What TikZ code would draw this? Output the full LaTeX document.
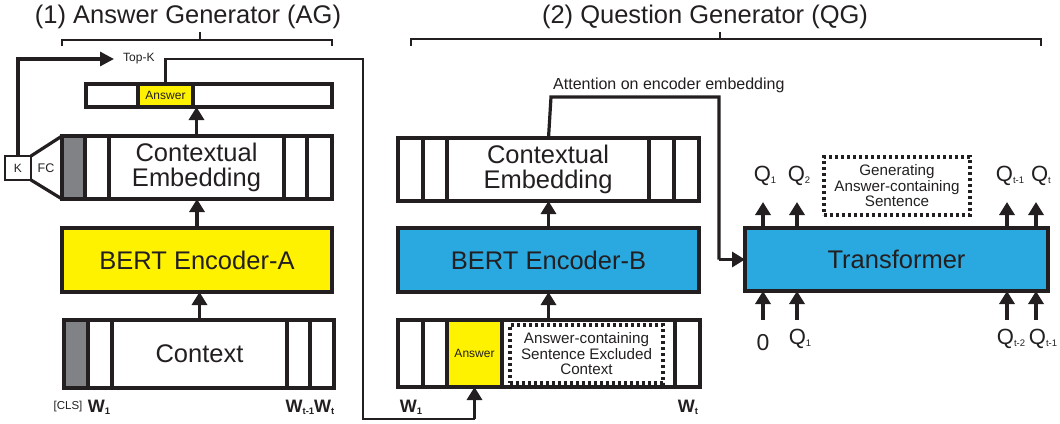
\documentclass[tikz,border=0pt]{standalone}
\usepackage{fontspec}
\setmainfont{Liberation Sans}
\usetikzlibrary{arrows.meta}
\definecolor{agyellow}{HTML}{FFF200}
\definecolor{qgblue}{HTML}{29A9E0}
\definecolor{clsgrey}{HTML}{808285}
\definecolor{ink}{HTML}{231F20}
% box helper: name, left, right, top, bottom, style, text
\newcommand{\mkcell}[7]{%
  \node[blk,#6,minimum width={(#3)-(#2)},minimum height={(#5)-(#4)}]
    (#1) at ({((#2)+(#3))/2},{((#4)+(#5))/2}) {#7};}
\newcommand{\lowsub}[1]{\raisebox{-0.1em}{\fontsize{9.5}{9.5}\selectfont #1}}
\begin{document}
\begin{tikzpicture}[x=1pt,y=-1pt,line join=miter,
  blk/.style={draw=ink,line width=3.6pt,inner sep=0pt,outer sep=0pt,rectangle},
  bigtxt/.style={font=\fontsize{25.5}{25}\selectfont,text=ink,align=center},
  midtxt/.style={font=\fontsize{15.2}{15.5}\selectfont,text=ink,align=center},
  smalltxt/.style={font=\fontsize{12}{12}\selectfont,text=ink},
  qtxt/.style={font=\fontsize{22}{22}\selectfont,text=ink,inner sep=0pt},
  wtxt/.style={font=\fontsize{18}{18}\selectfont\bfseries,text=ink,inner sep=0pt},
  flow/.style={draw=ink,line width=3.6pt,-{Triangle[width=15pt,length=13pt]}},
  wire/.style={draw=ink,line width=3.2pt},
  brace/.style={draw=ink,line width=1.8pt},
  dotbox/.style={draw=ink,line width=3.4pt,dash pattern=on 3.4pt off 2.6pt,
    inner sep=0pt,outer sep=0pt,rectangle}]
\useasboundingbox (0,0) rectangle (1060,423);

% ---------- titles and braces ----------
\node[font=\fontsize{25.5}{25}\selectfont,text=ink] (agtitle) at (188,17) {(1) Answer Generator (AG)};
\node[font=\fontsize{25.5}{25}\selectfont,text=ink] (qgtitle) at (705,17) {(2) Question Generator (QG)};
\draw[brace] (62,46) -- (62,40) -- (332,40) -- (332,46);
\draw[brace] (200,40) -- (200,32);
\draw[brace] (411,46) -- (411,39) -- (1041,39) -- (1041,46);
\draw[brace] (720,39) -- (720,32);

% ---------- (1) answer generator ----------
% answer span row
\mkcell{ansA1}{86}{138}{84}{107}{}{}
\mkcell{ansA}{138}{193}{84}{107}{fill=agyellow,smalltxt}{Answer}
\mkcell{ansA3}{193}{332}{84}{107}{}{}
% contextual embedding
\mkcell{ceA0}{62}{85}{136}{199}{fill=clsgrey}{}
\mkcell{ceA1}{85}{109}{136}{199}{}{}
\mkcell{ceA}{109}{284}{136}{199}{bigtxt}{Contextual\\Embedding}
\mkcell{ceA3}{284}{307}{136}{199}{}{}
\mkcell{ceA4}{307}{332}{136}{199}{}{}
% encoder
\mkcell{bertA}{62}{332}{228}{292}{fill=agyellow,bigtxt}{BERT Encoder-A}
% context tokens
\mkcell{ctxA0}{64}{88}{320}{388}{fill=clsgrey}{}
\mkcell{ctxA1}{88}{112}{320}{388}{}{}
\mkcell{ctxA}{112}{287}{320}{388}{bigtxt}{Context}
\mkcell{ctxA3}{287}{310}{320}{388}{}{}
\mkcell{ctxA4}{310}{334}{320}{388}{}{}
\node[smalltxt,font=\fontsize{11.5}{12}\selectfont] (cls) at (68,407) {[CLS]};
\node[wtxt] (wA1) at (99,407) {W\lowsub{1}};
\node[wtxt] (wAt) at (310,407) {W\lowsub{t-1}W\lowsub{t}};

\draw[flow] (ctxA.north) -- (ctxA.north |- bertA.south);
\draw[flow] (bertA.north) -- (bertA.north |- ceA.south);
\draw[flow] (ceA.north) -- (ceA.north |- ansA3.south);

% FC head and top-K selection
\mkcell{kbox}{5}{31}{156}{180}{line width=2.6pt,smalltxt}{K}
\draw[wire] (kbox.north east) -- (ceA0.north west);
\draw[wire] (kbox.south east) -- (ceA0.south west);
\node[smalltxt,font=\fontsize{12.5}{12.5}\selectfont] (fc) at (46,168) {FC};
\node[smalltxt,anchor=west,inner sep=0pt] (topk) at (123,59) {Top-K};
\coordinate (topkin) at (114,59);
\draw[wire,-{Triangle[width=14pt,length=14pt]}] (kbox.north) |- (topkin);

% ---------- (2) question generator ----------
\mkcell{ceB1}{398}{423}{138}{201}{}{}
\mkcell{ceB2}{423}{447}{138}{201}{}{}
\mkcell{ceB}{447}{649}{138}{201}{bigtxt}{Contextual\\Embedding}
\mkcell{ceB4}{649}{674}{138}{201}{}{}
\mkcell{ceB5}{674}{699}{138}{201}{}{}
\mkcell{bertB}{398}{699}{228}{292}{fill=qgblue,bigtxt}{BERT Encoder-B}
\mkcell{inB1}{398}{423}{320}{387}{}{}
\mkcell{inB2}{423}{447}{320}{387}{}{}
\mkcell{ansB}{447}{502}{320}{387}{fill=agyellow,smalltxt}{Answer}
\mkcell{inB}{502}{675}{320}{387}{}{}
\mkcell{inB5}{675}{700}{320}{387}{}{}
\mkcell{excl}{510}{663}{325}{383}{dotbox,midtxt}{Answer-containing\\Sentence Excluded\\Context}
\node[wtxt] (wB1) at (411,407) {W\lowsub{1}};
\node[wtxt] (wBt) at (688,407) {W\lowsub{t}};

\draw[flow] (bertB.south |- inB.north) -- (bertB.south);
\draw[flow] (bertB.north) -- (bertB.north |- ceB.south);

% selected answer fed into the question generator input
\coordinate (feedA) at (363,59);
\coordinate (feedB) at (363,419);
\draw[wire,line width=2.6pt] (ansA.north) -- (ansA.north |- feedA) -- (feedA) -- (feedB)
  -- (feedB -| ansB.south);
\draw[flow] (feedB -| ansB.south) -- (ansB.south);

% transformer decoder
\mkcell{trans}{745}{1048}{228}{291}{fill=qgblue,bigtxt}{Transformer}
\node[font=\fontsize{16}{16}\selectfont,text=ink,anchor=west,inner sep=0pt] (attn) at (553,85) {Attention on encoder embedding};
\coordinate (attnA) at (551,97);
\coordinate (attnB) at (719,97);
\draw[wire] (bertB.north |- ceB.north) -- (attnA) -- (attnB) -- (attnB |- trans.west);
\draw[flow] (attnB |- trans.west) -- (trans.west);

\mkcell{gen}{824}{970}{157}{215}{dotbox,midtxt}{Generating\\Answer-containing\\Sentence}

% decoder outputs
\node[qtxt] (qo1) at (765,176) {Q\lowsub{1}};
\node[qtxt] (qo2) at (799,176) {Q\lowsub{2}};
\node[qtxt] (qo3) at (1010,176) {Q\lowsub{t-1}};
\node[qtxt] (qo4) at (1041,176) {Q\lowsub{t}};
\foreach \x/\n in {763/1,797/2,1007/3,1036/4}{
  \coordinate (out\n) at (\x,202);
  \draw[flow] (out\n |- trans.north) -- (out\n);
}
% decoder inputs
\node[font=\fontsize{23}{23}\selectfont,text=ink,inner sep=0pt] (qi1) at (763,343) {0};
\node[qtxt] (qi2) at (800,339) {Q\lowsub{1}};
\node[qtxt] (qi3) at (1011,339) {Q\lowsub{t-2}};
\node[qtxt] (qi4) at (1043,339) {Q\lowsub{t-1}};
\foreach \x/\n in {763/1,797/2,1007/3,1036/4}{
  \coordinate (in\n) at (\x,320);
  \draw[flow] (in\n) -- (in\n |- trans.south);
}
\end{tikzpicture}
\end{document}
